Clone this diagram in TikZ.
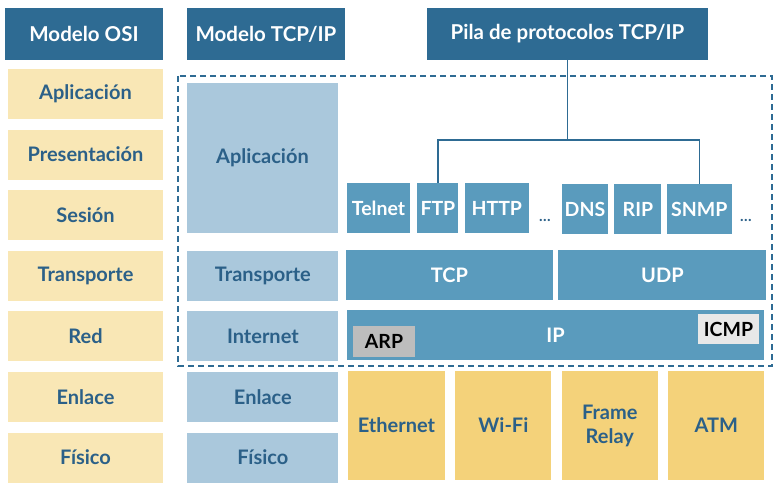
\documentclass[tikz,border=0pt]{standalone}
\usepackage{fontspec}
\setmainfont{Lato}
\usetikzlibrary{positioning}

\definecolor{headblue}{HTML}{2E6B93}
\definecolor{textblue}{HTML}{2B6088}
\definecolor{osiyellow}{HTML}{F9E7B5}
\definecolor{tcpblue}{HTML}{AAC8DC}
\definecolor{protoblue}{HTML}{5A9BBD}
\definecolor{linkyellow}{HTML}{F4D27A}
\definecolor{arpgray}{HTML}{BDBDBD}
\definecolor{icmpgray}{HTML}{E8E8E8}

\begin{document}
\begin{tikzpicture}[
    x = 1pt, y = -1pt, % pixel-like units, y downwards
    font = \bfseries\fontsize{20}{24}\selectfont,
    every node/.style = {inner sep = 0pt, align = center},
    header/.style = {fill = headblue, text = white, minimum height = 52pt,
        font = \bfseries\fontsize{20.5}{24}\selectfont},
    osi/.style = {fill = osiyellow, text = textblue, minimum width = 155pt, minimum height = 50pt},
    tcpip/.style = {fill = tcpblue, text = textblue, minimum width = 151pt, minimum height = 50pt},
    proto/.style = {fill = protoblue, text = white, minimum height = 50pt,
        font = \bfseries\fontsize{19.5}{24}\selectfont},
    link/.style = {fill = linkyellow, text = textblue, minimum width = 96pt, minimum height = 109pt},
    tag/.style = {text = black, font = \bfseries\fontsize{19.5}{24}\selectfont},
    tree/.style = {draw = headblue, line width = 1.5pt},
    frame/.style = {draw = headblue, line width = 1.6pt, dash pattern = on 6pt off 4pt}
    ]

    \useasboundingbox (0,0) rectangle (779,489);

    % headers
    \node[header, minimum width = 158pt] (hosi) at (84,34) {Modelo OSI};
    \node[header, minimum width = 158pt] (htcp) at (266,34) {Modelo TCP/IP};
    \node[header, minimum width = 281pt] (pila) at (567.5,34) {Pila de protocolos TCP/IP};

    % OSI model
    \node[osi] (o1) at (85.5,94) {Aplicación};
    \node[osi, below=10.2pt of o1] (o2) {Presentación};
    \node[osi, below=10.2pt of o2] (o3) {Sesión};
    \node[osi, below=10.2pt of o3] (o4) {Transporte};
    \node[osi, below=10.2pt of o4] (o5) {Red};
    \node[osi, below=10.2pt of o5] (o6) {Enlace};
    \node[osi, below=10.2pt of o6] (o7) {Físico};

    % TCP/IP model
    \node[tcpip, minimum height = 150pt] (t1) at (262.5,158) {Aplicación};
    \node[tcpip, right=24pt of o4] (t2) {Transporte};
    \node[tcpip, right=24pt of o5] (t3) {Internet};
    \node[tcpip, right=24pt of o6] (t4) {Enlace};
    \node[tcpip, right=24pt of o7] (t5) {Físico};

    % application protocols
    \node[proto, minimum width = 63pt] (telnet) at (378.5,208) {Telnet};
    \node[proto, minimum width = 41pt, right=7pt of telnet] (ftp) {FTP};
    \node[proto, minimum width = 64pt, right=6pt of ftp] (http) {HTTP};
    \node[text = textblue, font = \bfseries\fontsize{15}{18}\selectfont] (dots1) at (545,220) {\dots};
    \node[proto, minimum width = 46pt] (dns) at (585,209) {DNS};
    \node[proto, minimum width = 47pt, right=6pt of dns] (rip) {RIP};
    \node[proto, minimum width = 65pt, right=5pt of rip] (snmp) {SNMP};
    \node[text = textblue, font = \bfseries\fontsize{15}{18}\selectfont] (dots2) at (746,220) {\dots};

    % transport and internet
    \node[proto, minimum width = 207pt, font = \bfseries\fontsize{20}{24}\selectfont] (tcp) at (449.5,275) {TCP};
    \node[proto, minimum width = 208pt, font = \bfseries\fontsize{20}{24}\selectfont, right=5pt of tcp] (udp) {UDP};
    \node[proto, minimum width = 417pt, font = \bfseries\fontsize{20}{24}\selectfont] (ip) at (555.5,335) {IP};
    \node[tag, fill = arpgray, minimum width = 62pt, minimum height = 31pt] (arp) at (384,341.5) {ARP};
    \node[tag, fill = icmpgray, minimum width = 61pt, minimum height = 30pt] (icmp) at (728.5,329) {ICMP};

    % network access
    \node[link, minimum width = 97pt] (eth) at (396.5,425.5) {Ethernet};
    \node[link, right=10pt of eth] (wifi) {Wi-Fi};
    \node[link, right=10pt of wifi] (frame) {Frame\\Relay};
    \node[link, right=10pt of frame] (atm) {ATM};

    % protocol tree
    \draw[tree] (pila.south) -- ++(0,80) coordinate (fork);
    \draw[tree] (ftp.north) -- (ftp.north |- fork) -- (snmp.north |- fork) -- (snmp.north);

    % dashed frame
    \draw[frame] (178,76) rectangle (772,366);
\end{tikzpicture}
\end{document}
